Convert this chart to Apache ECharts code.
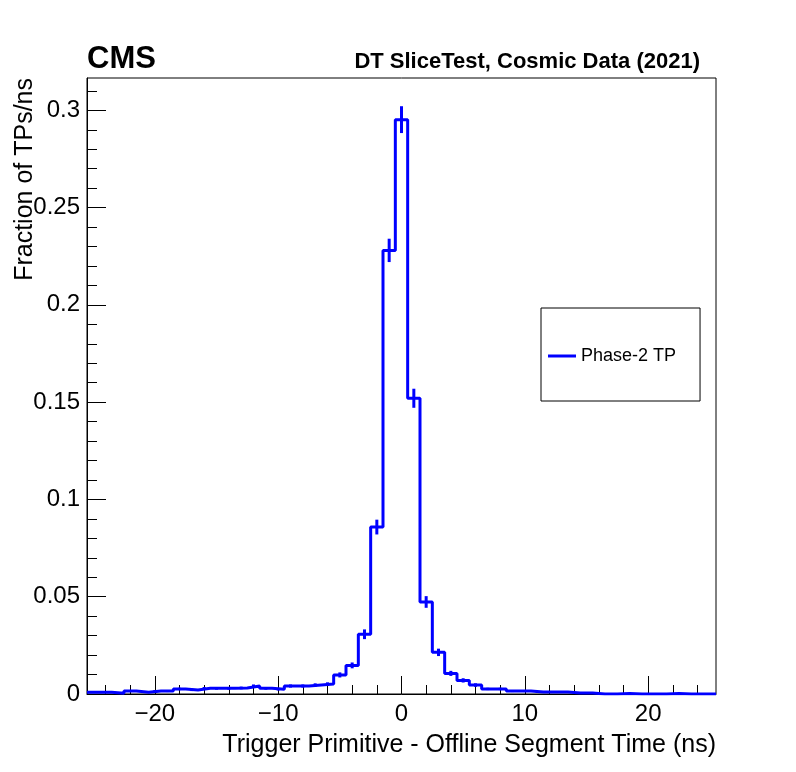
<!DOCTYPE html>
<html>
<head>
<meta charset="utf-8">
<script src="https://cdn.jsdelivr.net/npm/echarts@6/dist/echarts.min.js"></script>
<style>
  html, body { margin: 0; padding: 0; background: #fff; }
  #main { width: 796px; height: 772px; }
</style>
</head>
<body>
<div id="main"></div>
<script>
// bin centres (1 ns bins), fraction per ns and stat. error
const binCenters = [-25,-24,-23,-22,-21,-20,-19,-18,-17,-16,-15,-14,-13,-12,-11,-10,-9,-8,-7,-6,-5,-4,-3,-2,-1,
  0,1,2,3,4,5,6,7,8,9,10,11,12,13,14,15,16,17,18,19,20,21,22,23,24,25];
const fractions = [0.0009,0.0009,0.0004,0.0015,0.0009,0.0015,0.0015,0.0026,0.0021,0.0029,0.0029,0.0029,0.0031,0.0041,0.0029,0.0024,0.0041,0.0041,0.0046,0.0051,0.0098,0.0147,0.0307,0.0858,0.228,
  0.2952,0.152,0.0473,0.0214,0.0106,0.0070,0.0046,0.0026,0.0026,0.0015,0.0015,0.0010,0.0010,0.0010,0.0005,0.0005,0,0,0.0003,0,0,0,0.0003,0,0,0];
const errors = [0.0004,0.0004,0.0003,0.0005,0.0004,0.0005,0.0005,0.0006,0.0006,0.0007,0.0007,0.0007,0.0007,0.0008,0.0007,0.0006,0.0008,0.0008,0.0009,0.0009,0.0013,0.0015,0.0025,0.0038,0.006,
  0.0069,0.0049,0.003,0.0019,0.0013,0.0011,0.0009,0.0006,0.0006,0.0005,0.0005,0.0004,0.0004,0.0004,0.0003,0.0003,0,0,0.0002,0,0,0,0.0002,0,0,0];

const xMajorTicks = [-20, -10, 0, 10, 20];
const xMinorTicks = [-24,-22,-18,-16,-14,-12,-8,-6,-4,-2,2,4,6,8,12,14,16,18,22,24];
const yMajorTicks = [0, 0.05, 0.1, 0.15, 0.2, 0.25, 0.3];
const yMinorTicks = [0.01,0.02,0.03,0.04,0.06,0.07,0.08,0.09,0.11,0.12,0.13,0.14,0.16,0.17,0.18,0.19,
  0.21,0.22,0.23,0.24,0.26,0.27,0.28,0.29,0.31];

const seriesName = 'Phase-2 TP';
const blue = '#0000ff';
const font = '"Liberation Sans", Arial, Helvetica, sans-serif';

// step outline: every bin drawn from lower to upper edge
let outline = [];
binCenters.forEach((c, i) => {
  outline.push([c - 0.5, fractions[i]]);
  outline.push([c + 0.5, fractions[i]]);
});

let errorBars = [];
binCenters.forEach((c, i) => {
  if (errors[i] > 0) errorBars.push([c, fractions[i] - errors[i], fractions[i] + errors[i]]);
});

const chart = echarts.init(document.getElementById('main'), null, { renderer: 'canvas' });

const xBase = {
  type: 'value', min: -25.5, max: 25.5, position: 'bottom',
  splitLine: { show: false }
};
const yBase = {
  type: 'value', min: 0, max: 0.3166, position: 'left',
  splitLine: { show: false }
};

chart.setOption({
  animation: false,
  backgroundColor: '#fff',
  textStyle: { fontFamily: font },
  grid: {
    left: 87, right: 80, top: 78, bottom: 78,
    show: true, borderColor: '#000', borderWidth: 1, backgroundColor: '#fff'
  },
  legend: {
    left: 541, top: 308,
    orient: 'vertical',
    data: [{ name: seriesName, icon: 'rect' }],
    itemWidth: 28, itemHeight: 3,
    padding: [39, 24, 36, 7],
    borderColor: '#000', borderWidth: 1, backgroundColor: '#fff',
    textStyle: { fontFamily: font, fontSize: 18, color: '#000' }
  },
  xAxis: [
    Object.assign({}, xBase, {
      axisLine: { show: true, onZero: false, lineStyle: { color: '#000', width: 1 } },
      axisTick: { show: true, inside: true, length: 18, customValues: xMajorTicks, lineStyle: { color: '#000' } },
      axisLabel: {
        customValues: xMajorTicks, fontSize: 24, margin: 8, color: '#000', fontFamily: font,
        formatter: v => String(v).replace('-', '\u2212')
      }
    }),
    Object.assign({}, xBase, {
      axisLine: { show: false, onZero: false },
      axisTick: { show: true, inside: true, length: 9, customValues: xMinorTicks, lineStyle: { color: '#000' } },
      axisLabel: { show: false }
    })
  ],
  yAxis: [
    Object.assign({}, yBase, {
      axisLine: { show: true, onZero: false, lineStyle: { color: '#000', width: 1 } },
      axisTick: { show: true, inside: true, length: 19, customValues: yMajorTicks, lineStyle: { color: '#000' } },
      axisLabel: { customValues: yMajorTicks, fontSize: 24, margin: 7, color: '#000', fontFamily: font }
    }),
    Object.assign({}, yBase, {
      axisLine: { show: false, onZero: false },
      axisTick: { show: true, inside: true, length: 10, customValues: yMinorTicks, lineStyle: { color: '#000' } },
      axisLabel: { show: false }
    })
  ],
  series: [
    {
      name: seriesName,
      type: 'line',
      xAxisIndex: 0, yAxisIndex: 0,
      data: outline,
      symbol: 'none',
      color: blue,
      lineStyle: { color: blue, width: 3 },
      z: 3
    },
    {
      name: 'errors',
      type: 'custom',
      xAxisIndex: 0, yAxisIndex: 0,
      data: errorBars,
      z: 3,
      renderItem: (params, api) => {
        const lo = api.coord([api.value(0), api.value(1)]);
        const hi = api.coord([api.value(0), api.value(2)]);
        return {
          type: 'line',
          shape: { x1: lo[0], y1: lo[1], x2: hi[0], y2: hi[1] },
          style: { stroke: blue, lineWidth: 3 }
        };
      }
    }
  ],
  graphic: [
    {
      type: 'text', x: 87, y: 59,
      style: { text: 'CMS', font: 'bold 31px ' + font, fill: '#000', textVerticalAlign: 'middle' }
    },
    {
      type: 'text', x: 700, y: 62,
      style: { text: 'DT SliceTest, Cosmic Data (2021)', font: 'bold 22px ' + font, fill: '#000',
        textAlign: 'right', textVerticalAlign: 'middle' }
    },
    {
      type: 'text', x: 716, y: 745,
      style: { text: 'Trigger Primitive - Offline Segment Time (ns)', font: '25px ' + font, fill: '#000',
        textAlign: 'right', textVerticalAlign: 'middle' }
    },
    {
      type: 'text', x: 25, y: 78, rotation: Math.PI / 2,
      style: { text: 'Fraction of TPs/ns', font: '25px ' + font, fill: '#000',
        textAlign: 'right', textVerticalAlign: 'middle' }
    }
  ]
});
</script>
</body>
</html>
